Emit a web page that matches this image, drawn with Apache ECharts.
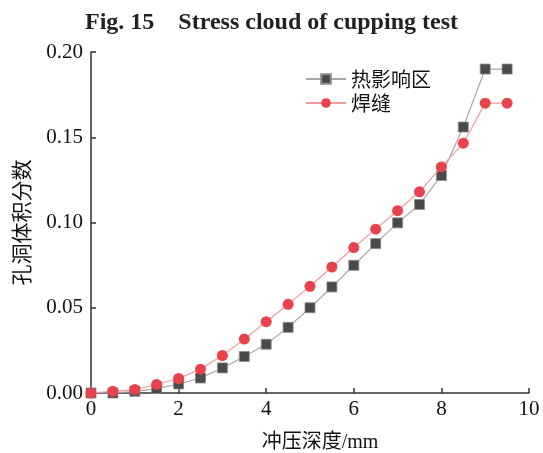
<!DOCTYPE html>
<html>
<head>
<meta charset="utf-8">
<script src="https://cdn.jsdelivr.net/npm/echarts@6/dist/echarts.min.js"></script>
<style>html,body{margin:0;padding:0;background:#fff;}#c{width:543px;height:453px;}</style>
</head>
<body>
<div id="c"></div>
<script>
const depth = [0, 0.5, 1, 1.5, 2, 2.5, 3, 3.5, 4, 4.5, 5, 5.5, 6, 6.5, 7, 7.5, 8, 8.5, 9, 9.5];
const haz = [0, 0, 0.001, 0.0026, 0.0053, 0.0088, 0.0147, 0.0214, 0.0286, 0.0385, 0.050, 0.0622, 0.0749, 0.0876, 0.0998, 0.1106, 0.1276, 0.156, 0.190, 0.190];
const weld = [0, 0.001, 0.002, 0.005, 0.0085, 0.014, 0.022, 0.0316, 0.0418, 0.052, 0.0626, 0.0739, 0.0853, 0.0961, 0.1069, 0.118, 0.1326, 0.1465, 0.170, 0.170];
const seriesNames = ['热影响区', '焊缝'];
const titleText = 'Fig. 15    Stress cloud of cupping test';
const xName = '冲压深度/mm';
const yName = '孔洞体积分数';

const chart = echarts.init(document.getElementById('c'));
const serif = '"Liberation Serif", "DejaVu Serif", serif';
const mixed = '"Liberation Serif", "Noto Sans CJK SC", serif';
const cjk = '"Noto Sans CJK SC", sans-serif';
chart.setOption({
  animation: false,
  title: {
    text: titleText, left: 'center', top: 6,
    textStyle: {fontFamily: serif, fontWeight: 'bold', fontSize: 24, color: '#222'}
  },
  legend: {
    orient: 'vertical', left: 300, top: 64, itemGap: 4,
    itemWidth: 40, itemHeight: 12,
    textStyle: {fontFamily: cjk, fontSize: 20, color: '#111'},
    data: seriesNames
  },
  grid: {left: 91, right: 14, top: 52, bottom: 60, outerBoundsMode: 'none', containLabel: false},
  xAxis: {
    type: 'value', min: 0, max: 10, interval: 2,
    name: xName, nameLocation: 'middle', nameGap: 40,
    nameTextStyle: {fontFamily: mixed, fontSize: 20, color: '#111', padding: [0, 0, 0, 20]},
    axisLine: {lineStyle: {color: '#333', width: 1.5}},
    axisTick: {inside: true, length: 5, lineStyle: {color: '#333', width: 1.5}},
    axisLabel: {fontFamily: serif, fontSize: 21, color: '#111', margin: 6},
    splitLine: {show: false}
  },
  yAxis: {
    type: 'value', min: 0, max: 0.2, interval: 0.05,
    name: yName, nameLocation: 'middle', nameGap: 59, nameRotate: 90,
    nameTextStyle: {fontFamily: cjk, fontSize: 21, color: '#111'},
    axisLine: {show: true, lineStyle: {color: '#333', width: 1.5}},
    axisTick: {show: true, inside: true, length: 5, lineStyle: {color: '#333', width: 1.5}},
    axisLabel: {fontFamily: serif, fontSize: 21, color: '#111', margin: 8,
      formatter: v => v.toFixed(2)},
    splitLine: {show: false}
  },
  series: [
    {
      name: seriesNames[0], type: 'line',
      data: depth.map((d, i) => [d, haz[i]]),
      symbol: 'rect', symbolSize: 10,
      lineStyle: {color: '#a8a8a8', width: 1.2},
      itemStyle: {color: '#4a4a4a', borderColor: '#8a8a8a', borderWidth: 0.8},
      z: 2
    },
    {
      name: seriesNames[1], type: 'line',
      data: depth.map((d, i) => [d, weld[i]]),
      symbol: 'circle', symbolSize: 11,
      lineStyle: {color: '#f39a9e', width: 1.2},
      itemStyle: {color: '#e8424c'},
      z: 3
    }
  ]
});
</script>
</body>
</html>
